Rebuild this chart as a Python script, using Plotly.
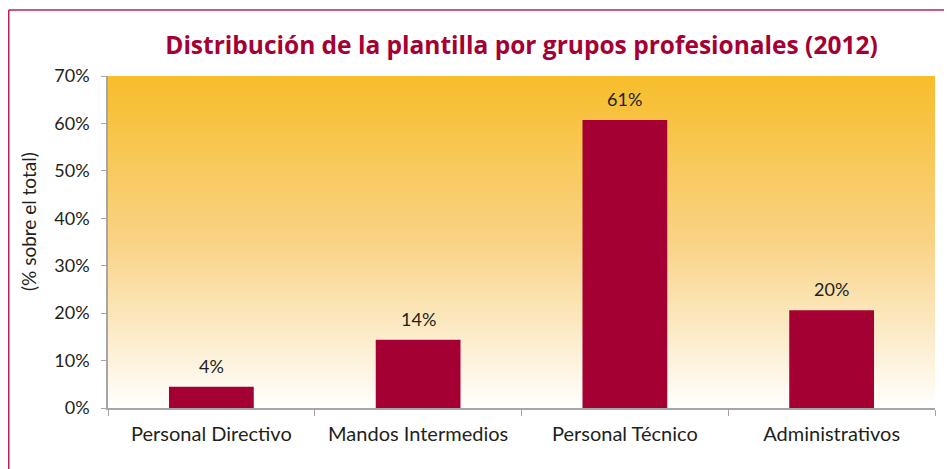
import numpy as np
import plotly.graph_objects as go

# data
categories = ["Personal Directivo", "Mandos Intermedios", "Personal Técnico", "Administrativos"]
values = [4.5, 14.4, 60.7, 20.6]
labels = ["4%", "14%", "61%", "20%"]
y_ticks = [0, 10, 20, 30, 40, 50, 60, 70]

title = "Distribución de la plantilla por grupos profesionales (2012)"
y_title = "(% sobre el total)"

BAR = "#A50034"
TEXT = "#231F20"
AXIS = "#A6A6A6"
FRAME = "#B8224F"
FONT = "Lato, 'Open Sans', sans-serif"
TITLE_FONT = "'Open Sans', Lato, sans-serif"

# the page has an 8px body margin, so the figure is 944x461
W, H = 944, 461
L, R, T, B = 100, 17, 68, 61
pw, ph = W - L - R, H - T - B

fig = go.Figure()

# vertical gradient behind the bars, one row per percent step
rows = np.arange(0.5, 70, 1.0)
fig.add_trace(go.Heatmap(
    x=categories,
    y=rows,
    z=[[r] * len(categories) for r in rows],
    zmin=0, zmax=70,
    colorscale=[[0, "#FFFFFF"], [0.5, "#F9D386"], [1, "#F7BD2B"]],
    zsmooth="best",
    showscale=False,
    hoverinfo="skip",
))

fig.add_trace(go.Bar(
    x=categories,
    y=values,
    marker=dict(color=BAR, line=dict(width=0)),
    width=0.41,
    hoverinfo="skip",
))

for cat, v, lab in zip(categories, values, labels):
    fig.add_annotation(x=cat, y=v, text=lab, showarrow=False,
                       yanchor="bottom", yshift=8,
                       font=dict(family=FONT, size=18, color=TEXT))

# y axis title placed by hand
fig.add_annotation(xref="paper", yref="paper", x=(20 - L) / pw, y=(408 - 8 - T - 222 + 76) / ph,
                   text=y_title, textangle=-90, showarrow=False,
                   xanchor="center", yanchor="middle",
                   font=dict(family=FONT, size=19, color=TEXT))

# outer frame: only the left and top edges fall inside the picture
fx0, fy1 = (0.75 - L) / pw, (H - B - 2) / ph
fig.add_shape(type="line", xref="paper", yref="paper",
              x0=fx0, x1=(W - L) / pw, y0=fy1, y1=fy1,
              line=dict(color=FRAME, width=1.5), layer="below")
fig.add_shape(type="line", xref="paper", yref="paper",
              x0=fx0, x1=fx0, y0=-B / ph, y1=fy1,
              line=dict(color=FRAME, width=1.5), layer="below")

fig.update_layout(
    width=W, height=H,
    margin=dict(l=L, r=R, t=T, b=B),
    paper_bgcolor="white",
    plot_bgcolor="white",
    showlegend=False,
    title=dict(text="<b>" + title + "</b>", x=0.5, xref="paper",
               y=1 - 37 / H, yanchor="middle",
               font=dict(family=TITLE_FONT, size=24.5, color=BAR)),
    font=dict(family=FONT, size=17, color=TEXT),
    xaxis=dict(
        type="category",
        range=[-0.5, 3.5],
        showline=True, linecolor=AXIS, linewidth=1.5,
        ticks="outside", tickson="boundaries", ticklen=6, tickcolor=AXIS,
        ticklabelstandoff=7,
        showgrid=False, zeroline=False,
        tickfont=dict(size=20, color=TEXT),
    ),
    yaxis=dict(
        range=[0, 70],
        tickvals=y_ticks,
        ticktext=[f"{t}%" for t in y_ticks],
        showline=True, linecolor=AXIS, linewidth=1.5,
        ticks="outside", ticklen=5, tickcolor=AXIS,
        ticklabelstandoff=8,
        showgrid=False, zeroline=False,
        tickfont=dict(size=18, color=TEXT),
    ),
)

# no scrollbars on the page
fig.write_html("out.html", post_script="document.body.style.overflow='hidden';")
